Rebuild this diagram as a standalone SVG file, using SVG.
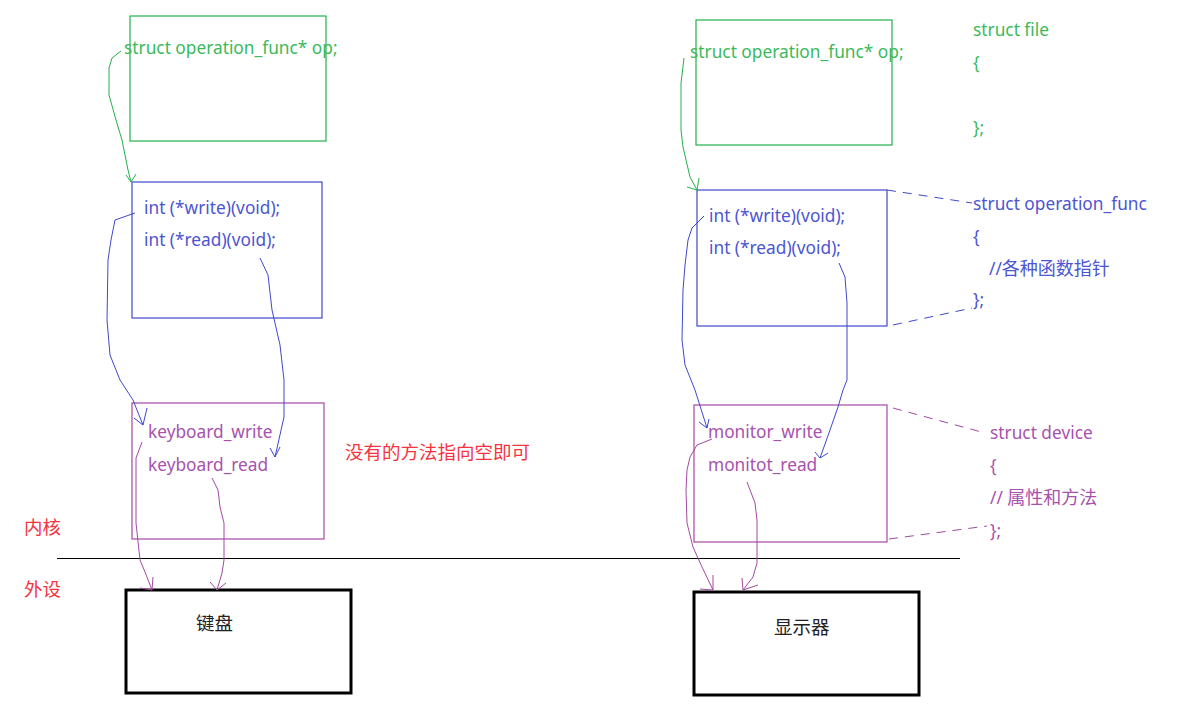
<svg xmlns="http://www.w3.org/2000/svg" width="1180" height="715" viewBox="0 0 1180 715">
<style>
text{font-family:"Noto Sans","Noto Sans CJK SC",sans-serif;font-size:17.3px}
.g{fill:#3bba5c}.b{fill:#4c55d2}.p{fill:#a752ad}.r{fill:#f5333f;font-size:18.5px}.k{fill:#222;font-size:18.5px}
.cj{font-size:18px}
.gb{fill:none;stroke:#22b14c;stroke-width:1.2}
.bb{fill:none;stroke:#3f48cc;stroke-width:1.2}
.pb{fill:none;stroke:#a349a4;stroke-width:1.2}
.kb{fill:none;stroke:#000;stroke-width:3}
.gl{fill:none;stroke:#22b14c;stroke-width:1}
.bl{fill:none;stroke:#3f48cc;stroke-width:1}
.pl{fill:none;stroke:#a349a4;stroke-width:1}
.bd{fill:none;stroke:#3f48cc;stroke-width:1;stroke-dasharray:9 7}
.pd{fill:none;stroke:#a349a4;stroke-width:1;stroke-dasharray:9 7}
</style>
<rect width="1180" height="715" fill="#fff"/>
<g id="file-left"><rect class="gb" x="130" y="16" width="196" height="125"/><text class="g" x="124" y="54">struct operation_func* op;</text></g>
<g id="ops-left"><rect class="bb" x="132" y="182" width="190" height="136"/><text class="b" x="144" y="214">int (*write)(void);</text><text class="b" x="144" y="246">int (*read)(void);</text></g>
<g id="dev-left"><rect class="pb" x="132" y="403" width="192" height="136"/><text class="p" x="148" y="438">keyboard_write</text><text class="p" x="148" y="471">keyboard_read</text></g>
<g id="note-null"><text class="r" x="345" y="459">没有的方法指向空即可</text></g>
<g id="keyboard"><rect class="kb" x="126" y="590" width="225" height="103"/><text class="k" x="196" y="630">键盘</text></g>
<g id="file-right"><rect class="gb" x="696" y="20" width="196" height="125"/><text class="g" x="690" y="58">struct operation_func* op;</text></g>
<g id="ops-right"><rect class="bb" x="697" y="190" width="190" height="136"/><text class="b" x="709" y="222">int (*write)(void);</text><text class="b" x="709" y="254">int (*read)(void);</text></g>
<g id="dev-right"><rect class="pb" x="694" y="405" width="193" height="137"/><text class="p" x="708" y="438">monitor_write</text><text class="p" x="708" y="471">monitot_read</text></g>
<g id="monitor"><rect class="kb" x="694" y="592" width="225" height="103"/><text class="k" x="774" y="634">显示器</text></g>
<g id="struct-file"><text class="g" x="973" y="36">struct file</text><text class="g" x="973" y="69">{</text><text class="g" x="973" y="134">};</text></g>
<g id="struct-ops"><text class="b" x="973" y="210">struct operation_func</text><text class="b" x="973" y="243">{</text><text class="b" x="989" y="275">//<tspan class="cj">各种函数指针</tspan></text><text class="b" x="973" y="306">};</text></g>
<g id="struct-dev"><text class="p" x="990" y="439">struct device</text><text class="p" x="990" y="472">{</text><text class="p" x="990" y="504">// <tspan class="cj">属性和方法</tspan></text><text class="p" x="990" y="537">};</text></g>
<g id="labels"><text class="r" x="24" y="534">内核</text><text class="r" x="24" y="596">外设</text></g>
<g id="connectors">
<line x1="57" y1="558.5" x2="960" y2="558.5" stroke="#000" stroke-width="1"/>
<path class="gl" d="M121,51 L112,58 L109,68 L109,95 L116,120 L122,140 L128,170 L131,182 M126,175 L131,182 L136,174"/>
<path class="gl" d="M684,58 L681,83 L681,130 L683,147 L690,177 L697,190 M687,187 L697,190 L699,178"/>
<path class="bl" d="M135,213 L115,220 L111,240 L108,260 L107,320 L110,355 L120,380 L133,400 L143,425 M134,418 L143,425 L147,408"/>
<path class="bl" d="M260,258 L268,275 L272,310 L280,345 L284,380 L284,417 L275,457 M270,448 L275,457 L280,447"/>
<path class="bl" d="M704,216 L692,228 L688,240 L685,265 L683,290 L682,340 L685,365 L695,390 L707,428 M699,422 L707,428 L709,419"/>
<path class="bl" d="M839,263 L845,277 L847,303 L847,340 L847,380 L843,390 L838,407 L830,430 L820,458 M815,452 L820,458 L828,453"/>
<path class="pl" d="M142,442 L136,458 L136,523 L140,560 L145,572 L152,590 M140,588 L152,590 L153,577"/>
<path class="pl" d="M212,478 L218,490 L220,507 L224,523 L224,560 L222,573 L217,590 M210,582 L217,590 L226,583"/>
<path class="pl" d="M712,439 L697,445 L690,457 L687,470 L686,490 L687,523 L693,547 L702,567 L713,590 M700,589 L713,590 L713,575"/>
<path class="pl" d="M747,482 L755,503 L757,520 L757,563 L753,577 L743,590 M742,578 L743,590 L758,585"/>
<path class="bd" d="M887,190 L972,203"/>
<path class="bd" d="M893,325 L972,308"/>
<path class="pd" d="M893,408 L985,433"/>
<path class="pd" d="M889,539 L987,526"/>
</g>
</svg>
